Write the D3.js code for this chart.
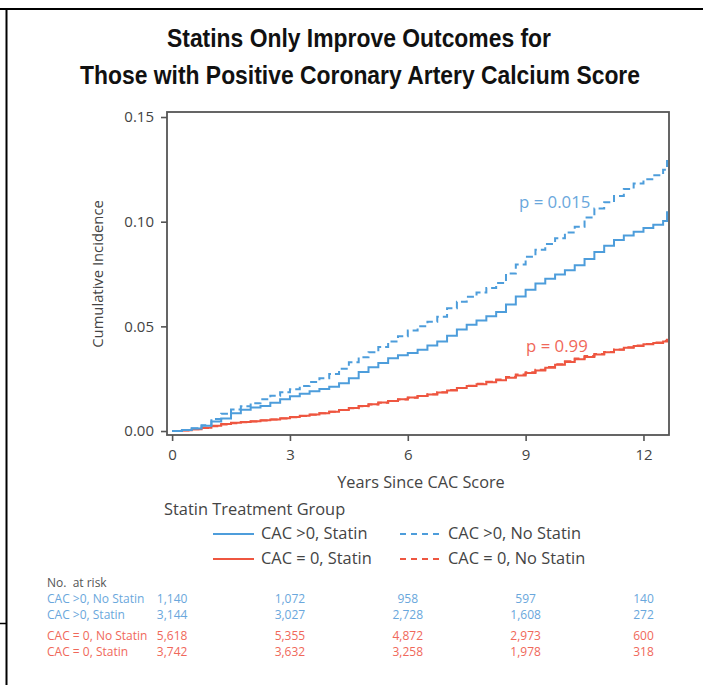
<!DOCTYPE html>
<html>
<head>
<meta charset="utf-8">
<script src="https://cdn.jsdelivr.net/npm/d3@7"></script>
<style>
  body { margin: 0; background: #fff; }
  text { font-family: "Open Sans", "Noto Sans", sans-serif; }
</style>
</head>
<body>
<svg id="chart" width="703" height="685"></svg>
<script>
// cumulative incidence (years -> incidence)
var times = [0, 0.25, 0.5, 0.75, 1, 1.25, 1.5, 1.75, 2, 2.25, 2.5, 2.75, 3, 3.25, 3.5, 3.75,
  4, 4.25, 4.5, 4.75, 5, 5.25, 5.5, 5.75, 6, 6.25, 6.5, 6.75, 7, 7.25, 7.5, 7.75,
  8, 8.25, 8.5, 8.75, 9, 9.25, 9.5, 9.75, 10, 10.25, 10.5, 10.75, 11, 11.25, 11.5, 11.75,
  12, 12.25, 12.5, 12.6];

var cacPosStatin = [0, 0.0005, 0.0012, 0.0025, 0.0045, 0.006, 0.0085, 0.0102, 0.0112, 0.012, 0.0135, 0.0152, 0.0166, 0.0178, 0.019, 0.0201,
  0.0212, 0.0228, 0.0252, 0.0282, 0.0305, 0.0325, 0.0348, 0.0362, 0.0373, 0.0388, 0.0408, 0.0428, 0.0455, 0.0485, 0.0508, 0.0528,
  0.0548, 0.0568, 0.0605, 0.0643, 0.0675, 0.0705, 0.0727, 0.0748, 0.0768, 0.0792, 0.0822, 0.0855, 0.0885, 0.0912, 0.0934, 0.0952,
  0.097, 0.0985, 0.1003, 0.105];

var cacPosNoStatin = [0, 0.0005, 0.0013, 0.0028, 0.0058, 0.0082, 0.0103, 0.0118, 0.0133, 0.0152, 0.0169, 0.0185, 0.02, 0.0215, 0.0234, 0.0252,
  0.0273, 0.0298, 0.0328, 0.0352, 0.0376, 0.0401, 0.0428, 0.0453, 0.048, 0.0501, 0.0522, 0.0546, 0.0586, 0.0617, 0.0641, 0.0662,
  0.0683, 0.0707, 0.0752, 0.0795, 0.0832, 0.0866, 0.0894, 0.0921, 0.0948, 0.0976, 0.102, 0.1063, 0.1093, 0.1123, 0.1156, 0.1182,
  0.1203, 0.1222, 0.1248, 0.1295];

var cacZeroStatin = [0, 0.0004, 0.0009, 0.0016, 0.0025, 0.0033, 0.0039, 0.0043, 0.0047, 0.0051, 0.0055, 0.0061, 0.0067, 0.0073, 0.0079, 0.0085,
  0.0092, 0.0101, 0.011, 0.0119, 0.0128, 0.0136, 0.0144, 0.0152, 0.016, 0.0167, 0.0175, 0.0184, 0.0194, 0.0205, 0.0215, 0.0224,
  0.0233, 0.0243, 0.0254, 0.0265, 0.0277, 0.0289, 0.0302, 0.0316, 0.033, 0.0343, 0.0354, 0.0365, 0.0376, 0.0388, 0.0398, 0.0406,
  0.0414, 0.0421, 0.0428, 0.0437];

var cacZeroNoStatin = [0, 0.0003, 0.0008, 0.0015, 0.0023, 0.0031, 0.0037, 0.0042, 0.0046, 0.005, 0.0055, 0.006, 0.0066, 0.0072, 0.0078, 0.0085,
  0.0092, 0.01, 0.0109, 0.0118, 0.0127, 0.0135, 0.0143, 0.0151, 0.0159, 0.0167, 0.0176, 0.0185, 0.0196, 0.0206, 0.0216, 0.0226,
  0.0235, 0.0246, 0.0258, 0.027, 0.0281, 0.0293, 0.0306, 0.0319, 0.0333, 0.0347, 0.0358, 0.0368, 0.0378, 0.0389, 0.04, 0.0408,
  0.0416, 0.0423, 0.0431, 0.0441];

var xTicks = [0, 3, 6, 9, 12];
var yTicks = [0, 0.05, 0.10, 0.15];

// number at risk table
var riskTimes = [0, 3, 6, 9, 12];
var riskLabels = ["CAC >0, No Statin", "CAC >0, Statin", "CAC = 0, No Statin", "CAC = 0, Statin"];
var riskPosNoStatin = ["1,140", "1,072", "958", "597", "140"];
var riskPosStatin = ["3,144", "3,027", "2,728", "1,608", "272"];
var riskZeroNoStatin = ["5,618", "5,355", "4,872", "2,973", "600"];
var riskZeroStatin = ["3,742", "3,632", "3,258", "1,978", "318"];

var blue = "#4d9ddb", red = "#ee5640";
var blueTxt = "#6aa7dc", redTxt = "#f0685a";
var axisCol = "#555";

var svg = d3.select("#chart");

// page borders
svg.append("line").attr("x1", 0).attr("x2", 703).attr("y1", 9).attr("y2", 9)
  .attr("stroke", "#000").attr("stroke-width", 2);
svg.append("line").attr("x1", 6.5).attr("x2", 6.5).attr("y1", 9).attr("y2", 685)
  .attr("stroke", "#000").attr("stroke-width", 2);
svg.append("line").attr("x1", 0).attr("x2", 7).attr("y1", 623.5).attr("y2", 623.5)
  .attr("stroke", "#000").attr("stroke-width", 1.5);

// title
var title = svg.append("g").style("font-weight", "bold").style("font-size", "25px").attr("fill", "#111");
title.append("text").attr("x", 359).attr("y", 47).attr("text-anchor", "middle")
  .attr("textLength", 384).attr("lengthAdjust", "spacingAndGlyphs")
  .style("font-family", "'Liberation Sans', Arial, sans-serif")
  .text("Statins Only Improve Outcomes for");
title.append("text").attr("x", 360).attr("y", 84).attr("text-anchor", "middle")
  .attr("textLength", 560).attr("lengthAdjust", "spacingAndGlyphs")
  .style("font-family", "'Liberation Sans', Arial, sans-serif")
  .text("Those with Positive Coronary Artery Calcium Score");

var x = d3.scaleLinear().domain([-0.13, 12.65]).range([167, 669]);
var y = d3.scaleLinear().domain([-0.0019, 0.1524]).range([435, 112]);

// frame
svg.append("rect").attr("x", 167).attr("y", 112).attr("width", 669 - 167).attr("height", 435 - 112)
  .attr("fill", "none").attr("stroke", axisCol).attr("stroke-width", 1.8);

var yAxis = svg.append("g").attr("transform", "translate(167,0)")
  .call(d3.axisLeft(y).tickValues(yTicks).tickFormat(d3.format(".2f")).tickSize(6).tickPadding(7));
var xAxis = svg.append("g").attr("transform", "translate(0,435)")
  .call(d3.axisBottom(x).tickValues(xTicks).tickFormat(d3.format("d")).tickSize(6).tickPadding(8));
[xAxis, yAxis].forEach(function(a) {
  a.select(".domain").remove();
  a.selectAll(".tick line").attr("stroke", axisCol).attr("stroke-width", 1.6);
  a.selectAll(".tick text").attr("fill", "#444").style("font-size", "15px")
    .style("font-family", "'Open Sans', sans-serif");
});

svg.append("text").attr("transform", "translate(103,274) rotate(-90)").attr("text-anchor", "middle")
  .attr("fill", "#444").style("font-size", "14.8px").text("Cumulative Incidence");
svg.append("text").attr("x", 421).attr("y", 488).attr("text-anchor", "middle")
  .attr("fill", "#444").style("font-size", "16.3px").text("Years Since CAC Score");

// curves
var series = [
  {vals: cacZeroNoStatin, color: red, dash: "7,4"},
  {vals: cacZeroStatin, color: red, dash: null},
  {vals: cacPosStatin, color: blue, dash: null},
  {vals: cacPosNoStatin, color: blue, dash: "7,4"}
];
var line = d3.line().curve(d3.curveStepAfter)
  .x(function(d) { return x(d[0]); })
  .y(function(d) { return y(d[1]); });
series.forEach(function(s) {
  var pts = times.map(function(t, i) { return [t, s.vals[i]]; });
  svg.append("path").datum(pts).attr("d", line).attr("fill", "none")
    .attr("stroke", s.color).attr("stroke-width", 2)
    .attr("stroke-dasharray", s.dash);
});

// p values
svg.append("text").attr("x", 519).attr("y", 208).attr("fill", blueTxt)
  .style("font-size", "16.8px").text("p = 0.015");
svg.append("text").attr("x", 526).attr("y", 352).attr("fill", redTxt)
  .style("font-size", "16.8px").text("p = 0.99");

// legend
svg.append("text").attr("x", 164).attr("y", 515).attr("fill", "#444")
  .style("font-size", "16.4px").text("Statin Treatment Group");
var legendItems = [
  {label: "CAC >0, Statin", color: blue, dash: null, lx: 213, ly: 534},
  {label: "CAC >0, No Statin", color: blue, dash: "6,5", lx: 400, ly: 534},
  {label: "CAC = 0, Statin", color: red, dash: null, lx: 213, ly: 559},
  {label: "CAC = 0, No Statin", color: red, dash: "6,5", lx: 400, ly: 559}
];
legendItems.forEach(function(d) {
  svg.append("line").attr("x1", d.lx).attr("x2", d.lx + 41).attr("y1", d.ly).attr("y2", d.ly)
    .attr("stroke", d.color).attr("stroke-width", 1.8).attr("stroke-dasharray", d.dash);
  svg.append("text").attr("x", d.lx + 48).attr("y", d.ly + 5).attr("fill", "#444")
    .style("font-size", "16.4px").text(d.label);
});

// number at risk
svg.append("text").attr("x", 47).attr("y", 587).attr("fill", "#555")
  .style("font-size", "12px").style("white-space", "pre").text("No.  at risk");
var riskRows = [
  {label: riskLabels[0], vals: riskPosNoStatin, color: blueTxt, yy: 603},
  {label: riskLabels[1], vals: riskPosStatin, color: blueTxt, yy: 619},
  {label: riskLabels[2], vals: riskZeroNoStatin, color: redTxt, yy: 640},
  {label: riskLabels[3], vals: riskZeroStatin, color: redTxt, yy: 656}
];
riskRows.forEach(function(r) {
  svg.append("text").attr("x", 47).attr("y", r.yy).attr("fill", r.color)
    .style("font-size", "12px").text(r.label);
  svg.selectAll(null).data(r.vals).enter().append("text")
    .attr("x", function(d, i) { return x(riskTimes[i]); })
    .attr("y", r.yy).attr("text-anchor", "middle").attr("fill", r.color)
    .style("font-size", "12px").text(function(d) { return d; });
});
</script>
</body>
</html>
